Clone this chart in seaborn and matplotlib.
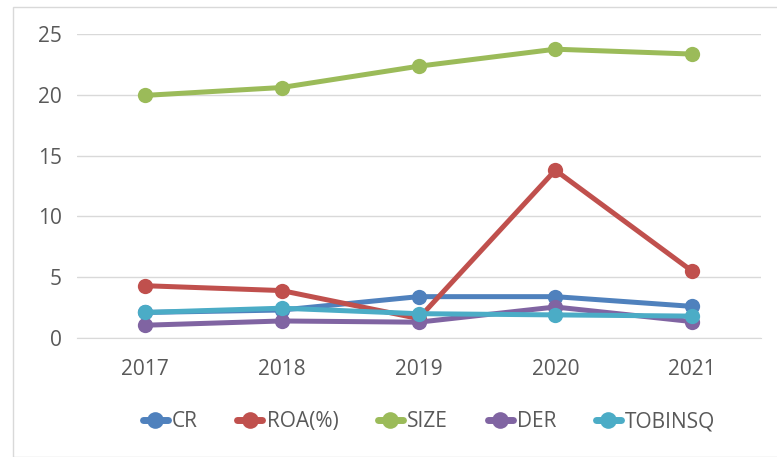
import pandas as pd
import seaborn as sns
import matplotlib.pyplot as plt
from matplotlib.patches import Rectangle

years = ['2017', '2018', '2019', '2020', '2021']
cr = [2.1, 2.3, 3.4, 3.4, 2.6]
roa = [4.3, 3.9, 1.6, 13.8, 5.5]
size = [19.95, 20.6, 22.35, 23.75, 23.35]
der = [1.05, 1.4, 1.3, 2.55, 1.35]
tobinsq = [2.1, 2.45, 2.0, 1.9, 1.8]

series = ['CR', 'ROA(%)', 'SIZE', 'DER', 'TOBINSQ']
colors = ['#4F81BD', '#C0504D', '#9BBB59', '#8064A2', '#4BACC6']

df = pd.DataFrame({
    'year': years * 5,
    'value': cr + roa + size + der + tobinsq,
    'series': [s for s in series for _ in years],
})

sns.set_style('white')
plt.rcParams['font.family'] = ['Open Sans', 'DejaVu Sans']

fig = plt.figure(figsize=(7.77, 4.57), dpi=100)
ax = fig.add_axes([0.0985, 0.2604, 0.8803, 0.6652])

sns.lineplot(data=df, x='year', y='value', hue='series', hue_order=series,
             palette=colors, marker='o', markersize=11, markeredgewidth=0,
             linewidth=3.6, ax=ax, legend=False, sort=False)

ax.set_xlim(-0.5, 4.5)
ax.set_ylim(0, 25)
ax.set_yticks([0, 5, 10, 15, 20, 25])
ax.yaxis.grid(True, color='#d9d9d9', linewidth=1)
ax.set_axisbelow(True)
for s in ['top', 'right', 'left']:
    ax.spines[s].set_visible(False)
ax.spines['bottom'].set_color('#d9d9d9')
ax.tick_params(axis='both', length=0, labelsize=15, labelcolor='#595959')
ax.tick_params(axis='y', pad=10.5)
ax.tick_params(axis='x', pad=15)
ax.set_xlabel('')
ax.set_ylabel('')

handles = [plt.Line2D([], [], color=c, linewidth=5, marker='o', markersize=12,
                      markeredgewidth=0) for c in colors]
fig.legend(handles, series, loc='center', bbox_to_anchor=(0.552, 0.077), ncol=5,
           frameon=False, fontsize=15, labelcolor='#595959', handlelength=1.2,
           handletextpad=0.2, columnspacing=1.9)

fig.patches.append(Rectangle((13 / 777, 0), 1, 1 - 7 / 457, transform=fig.transFigure,
                             fill=False, edgecolor='#d9d9d9', linewidth=1))

fig.savefig('out.png', dpi=100)
